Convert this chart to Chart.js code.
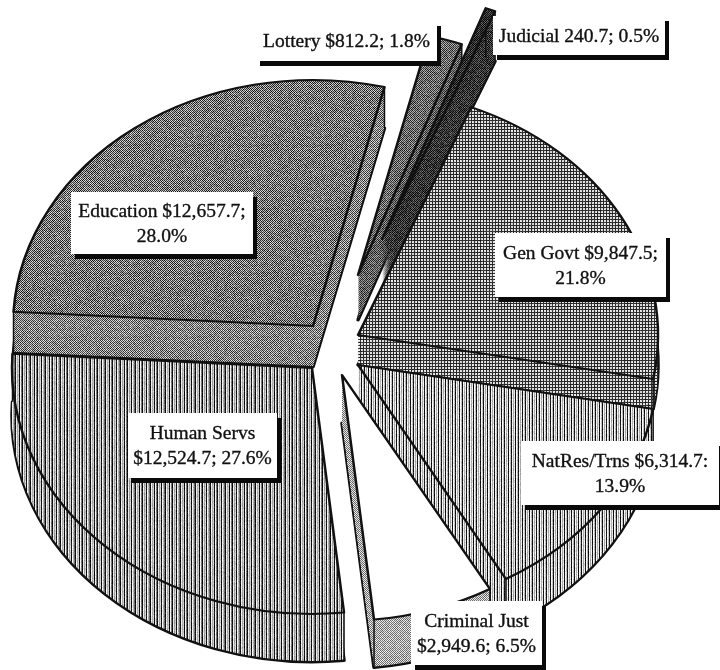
<!DOCTYPE html>
<html>
<head>
<meta charset="utf-8">
<title>Budget by function</title>
<style>
  html, body { margin: 0; padding: 0; background: #fff; }
  #wrap { width: 720px; height: 670px; }
</style>
<script src="https://cdn.jsdelivr.net/npm/chart.js@4.4.0/dist/chart.umd.min.js"></script>
</head>
<body>
<div id="wrap"><canvas id="chart" width="720" height="670"></canvas></div>
<script>
/* ── Data ────────────────────────────────────────────────────── */
const CATEGORIES = ['Education', 'Lottery', 'Judicial', 'Gen Govt', 'NatRes/Trns', 'Criminal Just', 'Human Servs'];
const VALUES     = [12657.7, 812.2, 240.7, 9847.5, 6314.7, 2949.6, 12524.7];

const LABEL_LINES = [
  ['Education $12,657.7;', '28.0%'],
  ['Lottery $812.2; 1.8%'],
  ['Judicial 240.7; 0.5%'],
  ['Gen Govt $9,847.5;', '21.8%'],
  ['NatRes/Trns $6,314.7:', '13.9%'],
  ['Criminal Just', '$2,949.6; 6.5%'],
  ['Human Servs', '$12,524.7; 27.6%'],
];

/* ── Look of the page: tilt, pulled-out slices, label boxes ──── */
const TILT = 0.82;
const RADIUS = 300;
const START_DEG = 273.3;

/* slice index -> screen shift of its point, wall height, paint order is back to front */
const SHIFT_X = [-47, -2, 22, -2, -2, -18, -48];
const SHIFT_Y = [-9, -60, -96, 0, 30, 40, 33];
const DEPTH   = [41, 45, 50, 30, 48, 48, 48];
const PAINT_ORDER = [1, 2, 0, 3, 4, 5, 6];

/* x0, y0, x1, y1 of the white part */
const LABEL_BOXES = [
  [71, 192, 253, 254],
  [256, 21, 437, 61],
  [493, 16, 665, 55],
  [495, 233, 666, 297],
  [521, 441, 719, 505],
  [411, 601, 542, 665],
  [128, 413, 277, 478],
];

/* ── Scanned-looking fills ───────────────────────────────────── */
function hash(x, y) {
  let h = (x * 73856093) ^ (y * 19349663);
  h = (h ^ (h >>> 13)) * 1274126177;
  return ((h ^ (h >>> 16)) >>> 0) % 256;
}

function makeTile(size, shade) {
  const c = document.createElement('canvas');
  c.width = c.height = size;
  const g = c.getContext('2d');
  const img = g.createImageData(size, size);
  for (let y = 0; y < size; y++) {
    for (let x = 0; x < size; x++) {
      const v = Math.max(0, Math.min(255, shade(x, y)));
      const i = (y * size + x) * 4;
      img.data[i] = img.data[i + 1] = img.data[i + 2] = v;
      img.data[i + 3] = 255;
    }
  }
  g.putImageData(img, 0, 0);
  return g.createPattern(c, 'repeat');
}

function ditherTile(base, contrast, noise) {
  return makeTile(64, (x, y) =>
    base + ((x + y) % 2 ? contrast : -contrast) + (hash(x, y) / 255 - 0.5) * noise);
}

const STRIPES_WIDE = [15, 240, 170, 205, 15, 245, 120, 15, 235, 160, 210, 15, 245, 175, 110];
const STRIPES_FINE = [20, 245, 170, 235, 20, 250, 190];

function stripeTile(widths) {
  return makeTile(widths.length * 6, (x, y) =>
    widths[x % widths.length] + (hash(x, y) / 255 - 0.5) * 40);
}

function gridTile() {
  return makeTile(30, (x, y) => {
    const line = x % 3 === 0 || y % 3 === 0;
    return (line ? 45 : 225) + (hash(x, y) / 255 - 0.5) * 50;
  });
}

const eduFill   = ditherTile(118, 80, 70);
const eduWall   = ditherTile(132, 75, 60);
const lotFill   = ditherTile(105, 60, 60);
const lotWall   = ditherTile(95, 55, 60);
const judFill   = ditherTile(45, 40, 60);
const judWall   = ditherTile(50, 40, 70);
const govFill   = gridTile();
const natFill   = stripeTile(STRIPES_FINE);
const crimWall  = ditherTile(170, 60, 40);
const humanFill = stripeTile(STRIPES_WIDE);

const TOP_FILLS  = [eduFill, lotFill, judFill, govFill, natFill, '#ffffff', humanFill];
const WALL_FILLS = [eduWall, lotWall, judWall, govFill, natFill, crimWall, humanFill];
const ALL_PATTERNS = [eduFill, eduWall, lotFill, lotWall, judFill, judWall, govFill, natFill, crimWall, humanFill];

/* ── Slice drawing ───────────────────────────────────────────── */

/* keep the dither locked to screen pixels whatever the transform is */
function lockPatterns(ctx) {
  const inv = ctx.getTransform().inverse();
  ALL_PATTERNS.forEach(p => p.setTransform(inv));
}

function placeSlice(ctx, arc, dx, dy) {
  ctx.setTransform(1, 0, 0, 1, 0, 0);
  ctx.translate(dx + arc.x, dy + arc.y);
  ctx.scale(1, TILT);
  ctx.translate(-arc.x, -arc.y);
  lockPatterns(ctx);
}

function drawArcWith(ctx, arc, overrides) {
  const copy = Object.create(arc);
  copy.options = { ...arc.options, ...overrides };
  arc.draw.call(copy, ctx);
}

function drawSlice(ctx, arc, i) {
  const sx = SHIFT_X[i];
  const sy = SHIFT_Y[i];
  const depth = DEPTH[i];
  const props = arc.getProps(['startAngle', 'endAngle', 'outerRadius', 'x', 'y']);

  ctx.save();
  /* bottom outline first, then the wall built up towards the top face */
  placeSlice(ctx, arc, sx, sy + depth);
  drawArcWith(ctx, arc, { backgroundColor: WALL_FILLS[i], borderWidth: 3.5 });
  for (let d = depth - 1; d >= 1; d--) {
    placeSlice(ctx, arc, sx, sy + d);
    drawArcWith(ctx, arc, { backgroundColor: WALL_FILLS[i], borderWidth: 0 });
  }
  /* upright corners of the wall */
  ctx.setTransform(1, 0, 0, 1, 0, 0);
  ctx.strokeStyle = '#111';
  ctx.lineWidth = 1.5;
  [props.startAngle, props.endAngle].forEach(a => {
    const x = props.x + sx + Math.cos(a) * props.outerRadius;
    const y = props.y + sy + Math.sin(a) * props.outerRadius * TILT;
    ctx.beginPath();
    ctx.moveTo(x, y);
    ctx.lineTo(x, y + depth);
    ctx.stroke();
  });
  placeSlice(ctx, arc, sx, sy);
  drawArcWith(ctx, arc, { backgroundColor: TOP_FILLS[i], borderWidth: 2.5 });
  ctx.restore();
}

const slicesPlugin = {
  id: 'tiltedSlices',
  beforeDatasetsDraw(chart) {
    const arcs = chart.getDatasetMeta(0).data;
    PAINT_ORDER.forEach(i => drawSlice(chart.ctx, arcs[i], i));
    return false;
  },
};

/* ── Label boxes ─────────────────────────────────────────────── */
const labelsPlugin = {
  id: 'boxLabels',
  afterDraw(chart) {
    const ctx = chart.ctx;
    ctx.save();
    ctx.textAlign = 'center';
    ctx.textBaseline = 'alphabetic';
    ctx.font = "19.5px 'Liberation Serif', serif";
    ctx.lineWidth = 0.35;
    ctx.strokeStyle = '#111111';
    LABEL_LINES.forEach((lines, i) => {
      const [x0, y0, x1, y1] = LABEL_BOXES[i];
      ctx.fillStyle = '#0a0a0a';
      ctx.fillRect(x0 + 4, y0 + 5, x1 - x0, y1 - y0);
      ctx.fillStyle = '#ffffff';
      ctx.fillRect(x0, y0, x1 - x0, y1 - y0);
      ctx.fillStyle = '#111111';
      const cx = (x0 + x1) / 2;
      const first = (y0 + y1) / 2 + 6 - (lines.length - 1) * 12.5;
      lines.forEach((t, k) => {
        ctx.fillText(t, cx, first + k * 25);
        ctx.strokeText(t, cx, first + k * 25);
      });
    });
    ctx.restore();
  },
};

/* ── Boot ───────────────────────────────────────────────────── */
new Chart(document.getElementById('chart').getContext('2d'), {
  type: 'pie',
  data: {
    labels: CATEGORIES,
    datasets: [{
      data: VALUES,
      backgroundColor: TOP_FILLS,
      borderColor: '#111111',
      borderWidth: 2,
      borderJoinStyle: 'round',
    }],
  },
  options: {
    responsive: false,
    animation: false,
    radius: RADIUS,
    rotation: START_DEG,
    layout: { padding: 0 },
    plugins: { legend: { display: false }, tooltip: { enabled: false } },
  },
  plugins: [slicesPlugin, labelsPlugin],
});
</script>
</body>
</html>
